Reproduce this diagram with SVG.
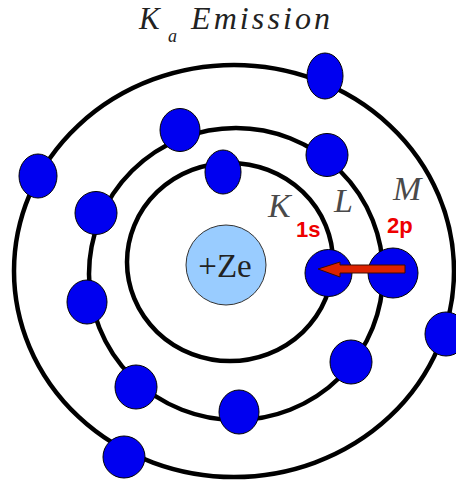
<svg xmlns="http://www.w3.org/2000/svg" width="456" height="486" viewBox="0 0 456 486">
<style>
.orbit{fill:none;stroke:#000;stroke-width:4.5}
.e{fill:#0000f0;stroke:#000;stroke-width:1}
.serif{font-family:"Liberation Serif","Times New Roman","DejaVu Serif",serif}
.shell{font-style:italic;font-size:34px;fill:#4a4a4a}
.title{font-style:italic;fill:#222}
.sub{font-family:"Liberation Sans",Arial,sans-serif;font-weight:bold;font-size:22px;fill:#ee0000}
</style>
<rect width="456" height="486" fill="#fff"/>
<g id="title" class="serif title">
<text x="139" y="29" font-size="31">K</text>
<text x="168" y="42" font-size="18">a</text>
<text x="191" y="29" font-size="32" textLength="139" lengthAdjust="spacing">Emission</text>
</g>
<g id="orbits">
<ellipse id="orbit-M" class="orbit" cx="234" cy="271" rx="220" ry="206"/>
<ellipse id="orbit-L" class="orbit" cx="236" cy="274" rx="147" ry="146"/>
<ellipse id="orbit-K" class="orbit" cx="230" cy="262" rx="103" ry="99"/>
</g>
<g id="nucleus">
<circle cx="226" cy="265" r="40" fill="#99ccff" stroke="#333" stroke-width="1"/>
<text class="serif" x="225" y="277" text-anchor="middle" font-size="33" fill="#222">+Ze</text>
</g>
<g id="electrons">
<ellipse class="e" cx="325" cy="76" rx="18" ry="23"/>
<ellipse class="e" cx="180" cy="130" rx="20" ry="21.5"/>
<ellipse class="e" cx="327" cy="155" rx="21" ry="21.5"/>
<ellipse class="e" cx="223" cy="172" rx="18" ry="22"/>
<ellipse class="e" cx="38" cy="176" rx="19" ry="22"/>
<ellipse class="e" cx="96" cy="213" rx="21" ry="21.5"/>
<ellipse class="e" cx="87" cy="302" rx="20" ry="22"/>
<ellipse class="e" cx="446" cy="334" rx="21" ry="22"/>
<ellipse class="e" cx="351" cy="362" rx="21" ry="22"/>
<ellipse class="e" cx="136" cy="387" rx="21" ry="22"/>
<ellipse class="e" cx="239" cy="412" rx="20" ry="22"/>
<ellipse class="e" cx="124" cy="457" rx="21" ry="21"/>
</g>
<g id="electron-1s">
<circle class="e" cx="328.5" cy="273" r="23.5"/>
</g>
<g id="electron-2p">
<circle class="e" cx="393" cy="273" r="25"/>
</g>
<g id="labels">
<text class="serif shell" x="268" y="217">K</text>
<text class="serif shell" x="334" y="212">L</text>
<text class="serif shell" x="393" y="200">M</text>
<text class="sub" x="296" y="237">1s</text>
<text class="sub" x="387" y="233">2p</text>
</g>
<g id="connectors">
<polygon points="405,265 340,265 340,262 318,269 340,277 340,273 405,273" fill="#dd2200" stroke="#3a0a00" stroke-width="1"/>
</g>
</svg>
